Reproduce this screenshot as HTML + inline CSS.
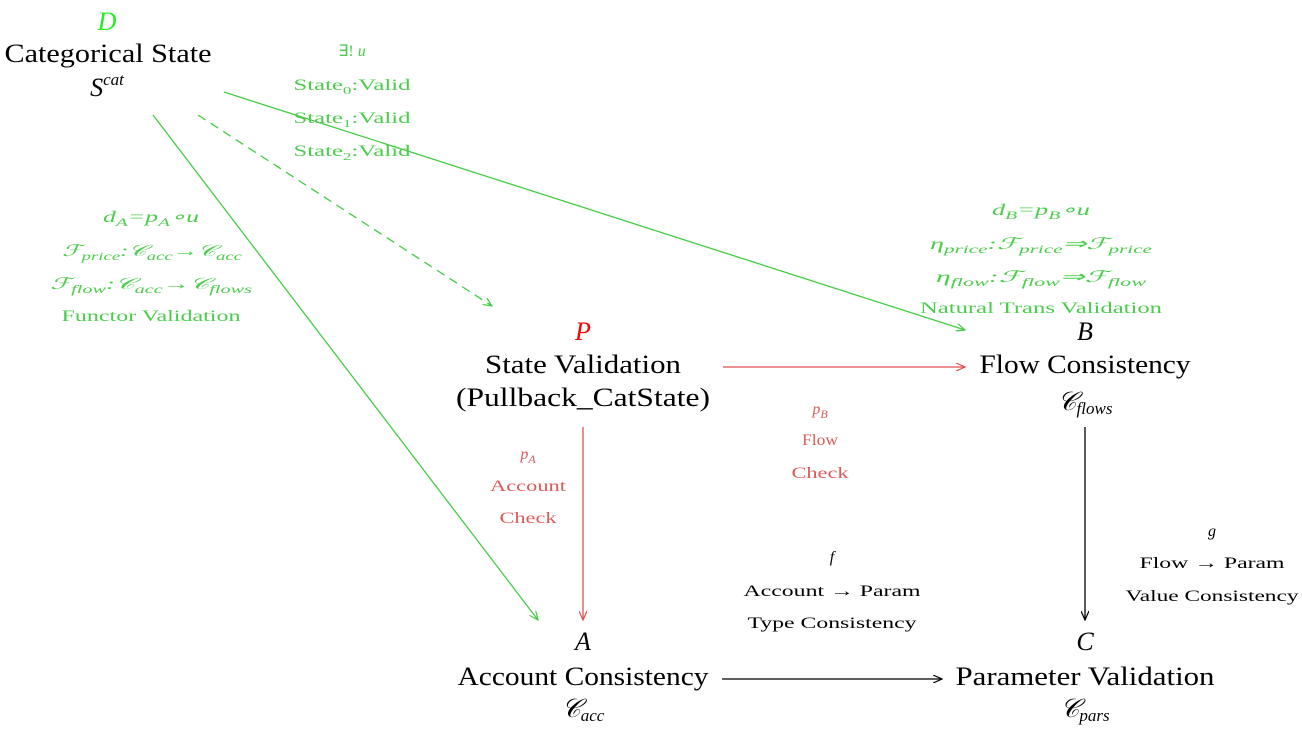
<!DOCTYPE html>
<html><head><meta charset="utf-8"><style>
html,body{margin:0;padding:0;background:#fff;}
svg{display:block;}
text{font-family:"Liberation Serif",serif;}
.n{font-size:26px;fill:#000;text-anchor:middle;}
.i{font-style:italic;}
.g{font-size:16px;fill:#4ccc4c;text-anchor:middle;}
.r{font-size:16px;fill:#dc5a5a;text-anchor:middle;}
.k{font-size:16px;fill:#000;text-anchor:middle;}
</style></head><body>
<svg width="1302" height="729" viewBox="0 0 1302 729">
<defs>
<marker id="ag" markerWidth="10" markerHeight="8" refX="9" refY="4" orient="auto" markerUnits="userSpaceOnUse"><path d="M0,0 L9,4 L0,8" fill="none" stroke="#44cc44" stroke-width="1.2"/></marker>
<marker id="ar" markerWidth="10" markerHeight="8" refX="9" refY="4" orient="auto" markerUnits="userSpaceOnUse"><path d="M0,0 L9,4 L0,8" fill="none" stroke="#e05050" stroke-width="1.2"/></marker>
<marker id="ak" markerWidth="10" markerHeight="8" refX="9" refY="4" orient="auto" markerUnits="userSpaceOnUse"><path d="M0,0 L9,4 L0,8" fill="none" stroke="#000" stroke-width="1.2"/></marker>
</defs>
<line x1="224" y1="92" x2="965" y2="330" stroke="#44cc44" stroke-width="1.3" marker-end="url(#ag)"/>
<line x1="198" y1="115" x2="492" y2="306" stroke="#44cc44" stroke-width="1.3" stroke-dasharray="9,6" marker-end="url(#ag)"/>
<line x1="153" y1="115" x2="538" y2="620" stroke="#44cc44" stroke-width="1.3" marker-end="url(#ag)"/>
<line x1="723" y1="367" x2="965" y2="367" stroke="#e05050" stroke-width="1.3" marker-end="url(#ar)"/>
<line x1="583" y1="427" x2="583" y2="620" stroke="#e05050" stroke-width="1.3" marker-end="url(#ar)"/>
<line x1="1085" y1="427" x2="1085" y2="620" stroke="#000" stroke-width="1.3" marker-end="url(#ak)"/>
<line x1="722" y1="679" x2="942" y2="679" stroke="#000" stroke-width="1.3" marker-end="url(#ak)"/>

<text class="n i" x="107" y="30" style="fill:#22ee22">D</text>
<text class="n" x="108" y="62" textLength="207" lengthAdjust="spacingAndGlyphs">Categorical State</text>
<text class="n" x="107" y="96"><tspan class="i">S</tspan><tspan class="i" font-size="17" dy="-11">cat</tspan></text>

<text class="n i" x="583" y="340" style="fill:#ff0000">P</text>
<text class="n" x="583" y="373" textLength="196" lengthAdjust="spacingAndGlyphs">State Validation</text>
<text class="n" x="583" y="406" textLength="254" lengthAdjust="spacingAndGlyphs">(Pullback_CatState)</text>

<text class="n i" x="1085" y="340">B</text>
<text class="n" x="1085" y="373" textLength="211" lengthAdjust="spacingAndGlyphs">Flow Consistency</text>
<text class="n" x="1085" y="410"><tspan class="i">𝒞</tspan><tspan class="i" font-size="17" dy="4">flows</tspan></text>

<text class="n i" x="583" y="650">A</text>
<text class="n" x="583" y="685" textLength="251" lengthAdjust="spacingAndGlyphs">Account Consistency</text>
<text class="n" x="583" y="717"><tspan class="i">𝒞</tspan><tspan class="i" font-size="17" dy="4">acc</tspan></text>

<text class="n i" x="1085" y="650">C</text>
<text class="n" x="1085" y="685" textLength="259" lengthAdjust="spacingAndGlyphs">Parameter Validation</text>
<text class="n" x="1085" y="717"><tspan class="i">𝒞</tspan><tspan class="i" font-size="17" dy="4">pars</tspan></text>

<text class="g" x="352" y="56">∃! <tspan class="i">u</tspan></text>
<text class="g" x="352" y="90" textLength="117" lengthAdjust="spacingAndGlyphs">State<tspan font-size="11" dy="4">0</tspan><tspan dy="-4">:Valid</tspan></text>
<text class="g" x="352" y="123" textLength="117" lengthAdjust="spacingAndGlyphs">State<tspan font-size="11" dy="4">1</tspan><tspan dy="-4">:Valid</tspan></text>
<text class="g" x="352" y="156" textLength="117" lengthAdjust="spacingAndGlyphs">State<tspan font-size="11" dy="4">2</tspan><tspan dy="-4">:Valid</tspan></text>

<text class="g i" x="151" y="222" textLength="96" lengthAdjust="spacingAndGlyphs">d<tspan font-size="12" dy="4">A</tspan><tspan dy="-4">=p</tspan><tspan font-size="12" dy="4">A</tspan><tspan dy="-4">∘u</tspan></text>
<text class="g i" x="152" y="256" textLength="180" lengthAdjust="spacingAndGlyphs">ℱ<tspan font-size="12" dy="4">price</tspan><tspan dy="-4">:𝒞</tspan><tspan font-size="12" dy="4">acc</tspan><tspan dy="-4">→𝒞</tspan><tspan font-size="12" dy="4">acc</tspan></text>
<text class="g i" x="151" y="289" textLength="202" lengthAdjust="spacingAndGlyphs">ℱ<tspan font-size="12" dy="4">flow</tspan><tspan dy="-4">:𝒞</tspan><tspan font-size="12" dy="4">acc</tspan><tspan dy="-4">→𝒞</tspan><tspan font-size="12" dy="4">flows</tspan></text>
<text class="g" x="151" y="321" textLength="179" lengthAdjust="spacingAndGlyphs">Functor Validation</text>

<text class="g i" x="1041" y="215" textLength="98" lengthAdjust="spacingAndGlyphs">d<tspan font-size="12" dy="4">B</tspan><tspan dy="-4">=p</tspan><tspan font-size="12" dy="4">B</tspan><tspan dy="-4">∘u</tspan></text>
<text class="g i" x="1041" y="249" textLength="222" lengthAdjust="spacingAndGlyphs">η<tspan font-size="12" dy="4">price</tspan><tspan dy="-4">:ℱ</tspan><tspan font-size="12" dy="4">price</tspan><tspan dy="-4">⇒ℱ</tspan><tspan font-size="12" dy="4">price</tspan></text>
<text class="g i" x="1041" y="282" textLength="210" lengthAdjust="spacingAndGlyphs">η<tspan font-size="12" dy="4">flow</tspan><tspan dy="-4">:ℱ</tspan><tspan font-size="12" dy="4">flow</tspan><tspan dy="-4">⇒ℱ</tspan><tspan font-size="12" dy="4">flow</tspan></text>
<text class="g" x="1041" y="313" textLength="242" lengthAdjust="spacingAndGlyphs">Natural Trans Validation</text>

<text class="r i" x="820" y="414">p<tspan font-size="12" dy="4">B</tspan></text>
<text class="r" x="820" y="445" textLength="36" lengthAdjust="spacingAndGlyphs">Flow</text>
<text class="r" x="820" y="478" textLength="57" lengthAdjust="spacingAndGlyphs">Check</text>
<text class="r i" x="528" y="459">p<tspan font-size="12" dy="4">A</tspan></text>
<text class="r" x="528" y="491" textLength="76" lengthAdjust="spacingAndGlyphs">Account</text>
<text class="r" x="528" y="523" textLength="57" lengthAdjust="spacingAndGlyphs">Check</text>

<text class="k i" x="832" y="562">f</text>
<text class="k" x="832" y="596" textLength="177" lengthAdjust="spacingAndGlyphs">Account → Param</text>
<text class="k" x="832" y="628" textLength="169" lengthAdjust="spacingAndGlyphs">Type Consistency</text>
<text class="k i" x="1212" y="536">g</text>
<text class="k" x="1212" y="568" textLength="145" lengthAdjust="spacingAndGlyphs">Flow → Param</text>
<text class="k" x="1212" y="601" textLength="173" lengthAdjust="spacingAndGlyphs">Value Consistency</text>
</svg>
</body></html>
